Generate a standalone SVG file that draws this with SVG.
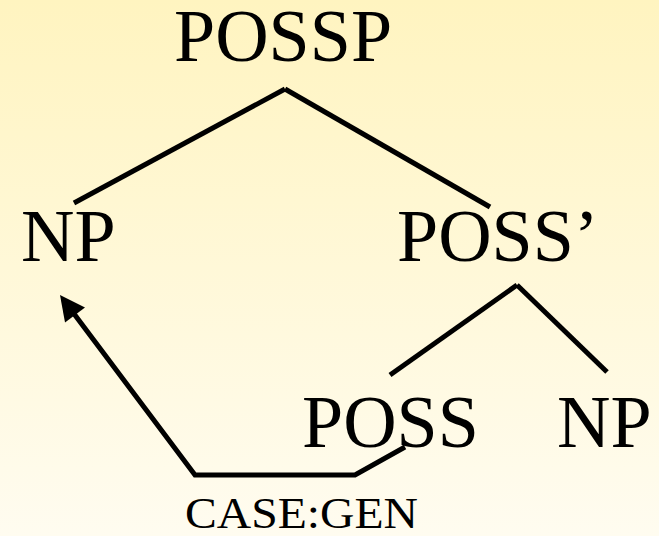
<svg xmlns="http://www.w3.org/2000/svg" width="659" height="536" viewBox="0 0 659 536">
  <defs>
    <linearGradient id="bg" x1="0" y1="0" x2="0" y2="1">
      <stop offset="0" stop-color="#FFF4C0"/>
      <stop offset="1" stop-color="#FFFCF0"/>
    </linearGradient>
    <marker id="arrow" markerUnits="userSpaceOnUse" markerWidth="40" markerHeight="40" refX="0" refY="0" viewBox="-20 -20 40 40" orient="auto" overflow="visible">
      <path d="M13,0 L-12,-12.5 L-12,12.5 Z" fill="#000"/>
    </marker>
    <style>
      .lbl { font-family: "Liberation Serif", "Times New Roman", serif; font-size: 74px; fill: #000; }
      .small { font-family: "Liberation Serif", "Times New Roman", serif; font-size: 44px; fill: #000; }
      .edge { stroke: #000; stroke-width: 5; fill: none; stroke-linecap: butt; stroke-linejoin: miter; }
    </style>
  </defs>
  <rect x="0" y="0" width="659" height="536" fill="url(#bg)"/>

  <g id="connectors">
    <line class="edge" x1="285" y1="89" x2="74" y2="203"/>
    <line class="edge" x1="285" y1="89" x2="490" y2="207"/>
    <line class="edge" x1="517" y1="285" x2="390" y2="375"/>
    <line class="edge" x1="517" y1="285" x2="607" y2="372"/>
    <polyline class="edge" points="405,447 355,475 195,475 67.8,305.4" marker-end="url(#arrow)"/>
  </g>

  <g id="node-possp"><text class="lbl" x="174" y="61">POSSP</text></g>
  <g id="node-np1"><text class="lbl" x="21" y="261">NP</text></g>
  <g id="node-possbar"><text class="lbl" x="397" y="261">POSS’</text></g>
  <g id="node-poss"><text class="lbl" x="302" y="447">POSS</text></g>
  <g id="node-np2"><text class="lbl" x="557" y="447">NP</text></g>
  <g id="label-case"><text class="small" x="185" y="528" textLength="233" lengthAdjust="spacingAndGlyphs">CASE:GEN</text></g>
</svg>
